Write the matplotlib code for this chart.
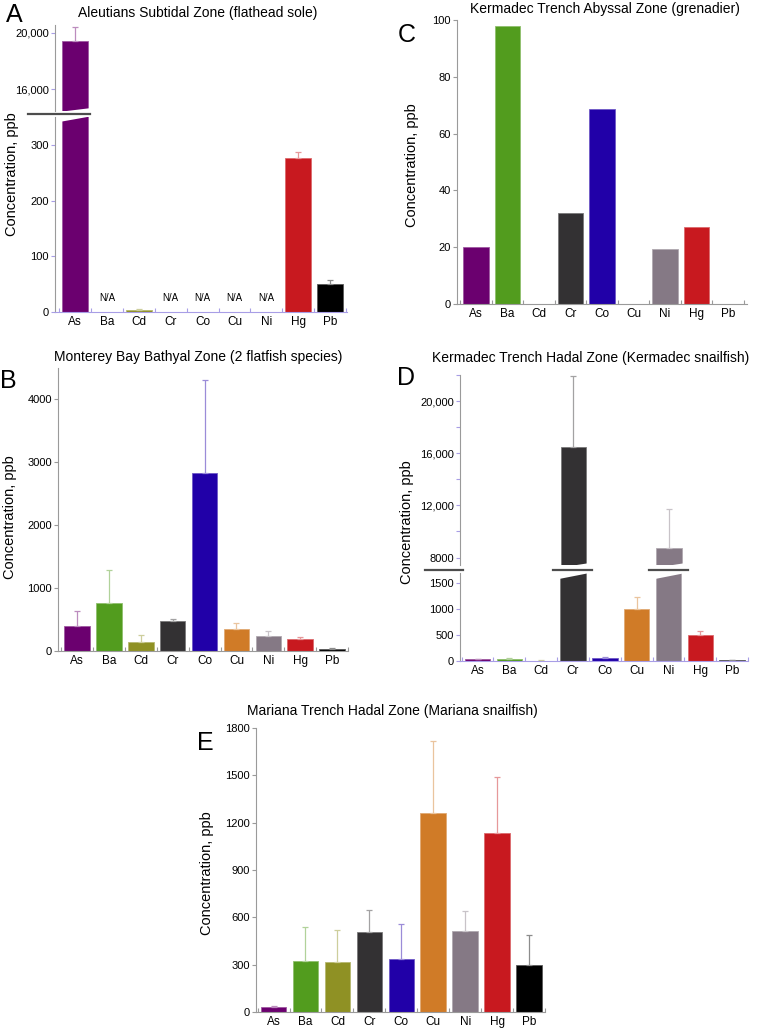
import numpy as np
import matplotlib
matplotlib.use("Agg")
import matplotlib.pyplot as plt
from matplotlib.patches import Polygon
from matplotlib.lines import Line2D
from matplotlib.colors import to_rgb

plt.rcParams['font.family'] = ['Liberation Sans', 'DejaVu Sans']

elements = ['As', 'Ba', 'Cd', 'Cr', 'Co', 'Cu', 'Ni', 'Hg', 'Pb']
colors = ['#6b006f', '#529c1e', '#8f9124', '#333133', '#2100a8',
          '#d07b27', '#857985', '#c8191f', '#000000']

# A - Aleutians (NaN = not analysed)
aleut_mean = [19430, np.nan, 4, np.nan, np.nan, np.nan, np.nan, 276, 50]
aleut_err = [1000, 0, 0.5, 0, 0, 0, 0, 11, 7]
# B - Monterey Bay
monterey_mean = [400, 770, 150, 475, 2830, 355, 240, 190, 30]
monterey_err = [240, 520, 105, 30, 1480, 90, 80, 35, 10]
# C - Kermadec abyssal
kerm_aby_mean = [20, 98, 0, 32, 68.5, 0, 19.5, 27, 0]
# D - Kermadec hadal
kerm_had_mean = [30, 35, 8, 16450, 60, 1000, 8750, 500, 10]
kerm_had_err = [5, 15, 5, 5450, 20, 230, 3000, 70, 3]
# E - Mariana hadal
mariana_mean = [30, 325, 315, 505, 335, 1260, 515, 1135, 295]
mariana_err = [5, 215, 205, 140, 220, 455, 125, 355, 195]

W, H = 757, 1030
fig = plt.figure(figsize=(W / 100, H / 100), dpi=100)

GRAY = '#9a9a9a'
LAV = '#a89ee6'


def px_axes(x0, y0, x1, y1):
    return fig.add_axes([x0 / W, 1 - y1 / H, (x1 - x0) / W, (y1 - y0) / H])


def fx(x):
    return x / W


def fy(y):
    return 1 - y / H


def tint(c, f=0.55):
    r = np.array(to_rgb(c))
    return tuple(r + (1 - r) * f)


def style(ax, xlim, tickcol, botcol, show_x=True):
    x = np.arange(len(elements))
    ax.set_xlim(*xlim)
    for s in ['top', 'right']:
        ax.spines[s].set_visible(False)
    ax.spines['left'].set_color(GRAY)
    ax.spines['left'].set_linewidth(0.8)
    ax.tick_params(axis='y', direction='out', length=3, width=0.8,
                   color=tickcol, labelsize=8, pad=1.5)
    ax.tick_params(axis='y', which='minor', direction='out', length=3,
                   width=0.8, color=tickcol)
    if show_x:
        ax.spines['bottom'].set_color(botcol)
        ax.spines['bottom'].set_linewidth(0.8)
        ax.set_xticks(x)
        ax.set_xticklabels(elements)
        ax.tick_params(axis='x', length=0, labelsize=8.5, pad=3)
        ax.set_xticks(np.arange(-0.5, len(elements), 1.0), minor=True)
        ax.tick_params(axis='x', which='minor', direction='in', length=3,
                       width=0.8, color=botcol)
    else:
        ax.spines['bottom'].set_visible(False)
        ax.set_xticks([])


def draw_bars(ax, means, errs=None):
    x = np.arange(len(elements))
    for i in range(len(elements)):
        m = means[i]
        if np.isnan(m):
            continue
        ax.bar(x[i], m, width=0.8, color=colors[i],
               edgecolor=tint(colors[i], 0.35), linewidth=0.6)
        if errs is not None and errs[i] > 0:
            ax.errorbar(x[i], m, yerr=[[0], [errs[i]]], fmt='none',
                        ecolor=tint(colors[i]), elinewidth=0.9,
                        capsize=2, capthick=0.9)


def fmt_k(v):
    return f"{v:,.0f}" if v >= 10000 else f"{v:.0f}"


def break_marks(bar_spans, y_up, y_lo, y_line, line_spans):
    for (xl, xr) in bar_spans:
        poly = Polygon([(fx(xl), fy(y_up[0])), (fx(xr), fy(y_up[1])),
                        (fx(xr), fy(y_lo[1])), (fx(xl), fy(y_lo[0]))],
                       closed=True, transform=fig.transFigure,
                       facecolor='white', edgecolor='none', zorder=10)
        fig.patches.append(poly)
    for (xa, xb) in line_spans:
        fig.lines.append(Line2D([fx(xa), fx(xb)], [fy(y_line), fy(y_line)],
                                transform=fig.transFigure, color='#4d4d4d',
                                lw=1.6, zorder=11))


# ---------- A ----------
axA_hi = px_axes(55, 25, 347, 111)
axA_lo = px_axes(55, 117, 347, 312)
for ax in (axA_hi, axA_lo):
    draw_bars(ax, aleut_mean, aleut_err)
axA_hi.set_ylim(14430, 20570)
axA_hi.set_yticks([16000, 20000])
axA_hi.set_yticklabels([fmt_k(v) for v in [16000, 20000]])
style(axA_hi, (-0.63, 8.53), LAV, LAV, show_x=False)
axA_lo.set_ylim(0, 350)
axA_lo.set_yticks([0, 100, 200, 300])
style(axA_lo, (-0.63, 8.53), LAV, LAV)
for i, m in enumerate(aleut_mean):
    if np.isnan(m):
        axA_lo.text(i, 25, 'N/A', ha='center', va='center', fontsize=7)
break_marks([(61, 89)], (111.7, 108.3), (121.7, 116.7), 114, [(28, 90)])

# ---------- B ----------
axB = px_axes(58, 368, 348, 651)
draw_bars(axB, monterey_mean, monterey_err)
axB.set_ylim(0, 4500)
axB.set_yticks([0, 1000, 2000, 3000, 4000])
style(axB, (-0.6, 8.47), GRAY, GRAY)

# ---------- C ----------
axC = px_axes(457, 20, 747, 304)
draw_bars(axC, kerm_aby_mean)
axC.set_ylim(0, 100)
axC.set_yticks([0, 20, 40, 60, 80, 100])
style(axC, (-0.6, 8.6), GRAY, GRAY)

# ---------- D ----------
axD_hi = px_axes(460, 375, 748, 565)
axD_lo = px_axes(460, 573, 748, 661)
for ax in (axD_hi, axD_lo):
    draw_bars(ax, kerm_had_mean, kerm_had_err)
axD_hi.set_ylim(7430, 22000)
axD_hi.set_yticks([8000, 12000, 16000, 20000])
axD_hi.set_yticklabels([fmt_k(v) for v in [8000, 12000, 16000, 20000]])
axD_hi.set_yticks([10000, 14000, 18000, 22000], minor=True)
style(axD_hi, (-0.55, 8.47), LAV, LAV, show_x=False)
axD_lo.set_ylim(0, 1700)
axD_lo.set_yticks([0, 500, 1000, 1500])
style(axD_lo, (-0.55, 8.47), LAV, LAV)
break_marks([(559, 588), (655, 684)], (567.7, 563.3), (579, 573.3), 570,
            [(425, 463), (553, 592), (649, 688)])

# ---------- E ----------
axE = px_axes(256, 728, 545, 1012)
draw_bars(axE, mariana_mean, mariana_err)
axE.set_ylim(0, 1800)
axE.set_yticks([0, 300, 600, 900, 1200, 1500, 1800])
style(axE, (-0.55, 8.5), GRAY, GRAY)

# titles, y labels, panel letters
titles = [('Aleutians Subtidal Zone (flathead sole)', 198, 13),
          ('Monterey Bay Bathyal Zone (2 flatfish species)', 198, 357),
          ('Kermadec Trench Abyssal Zone (grenadier)', 605, 9),
          ('Kermadec Trench Hadal Zone (Kermadec snailfish)', 591, 358),
          ('Mariana Trench Hadal Zone (Mariana snailfish)', 392, 711)]
for t, x, y in titles:
    fig.text(fx(x), fy(y), t, ha='center', va='center', fontsize=10)

ylabels = [(12, 174), (10, 517), (412, 165), (407, 522), (207, 873)]
for x, y in ylabels:
    fig.text(fx(x), fy(y), 'Concentration, ppb', rotation=90,
             ha='center', va='center', fontsize=10.5)

letters = [('A', 6, 22), ('B', 0, 388), ('C', 398, 42), ('D', 397, 385),
           ('E', 197, 750)]
for l, x, y in letters:
    fig.text(fx(x), fy(y), l, ha='left', va='baseline', fontsize=18)

fig.savefig('out.png', dpi=100)
